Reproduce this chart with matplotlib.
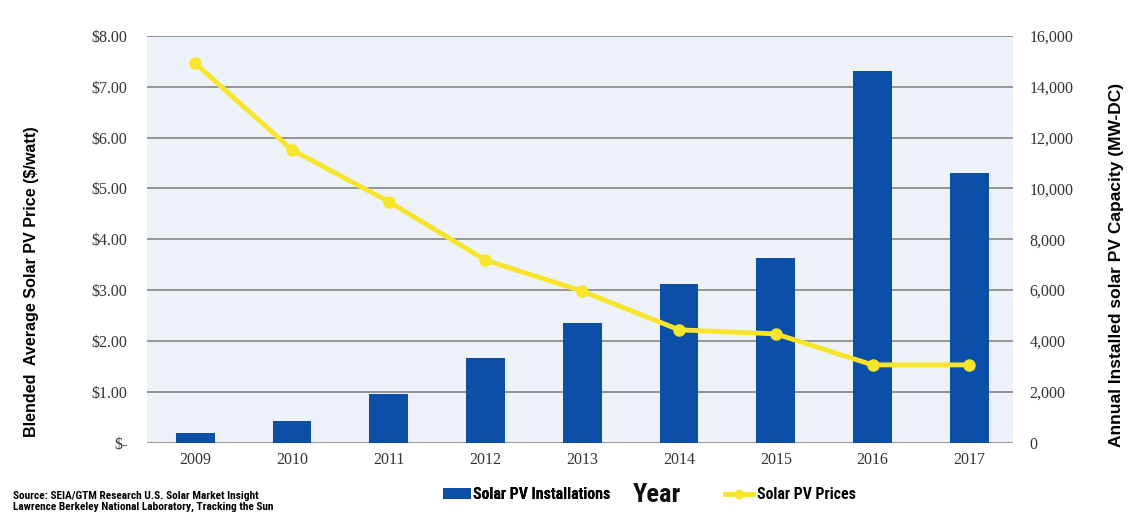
import numpy as np
import matplotlib
matplotlib.use('Agg')
import matplotlib.pyplot as plt
from matplotlib.patches import Patch
from matplotlib.lines import Line2D

# данные
years = ['2009', '2010', '2011', '2012', '2013', '2014', '2015', '2016', '2017']
installs_mw = [390, 850, 1920, 3340, 4720, 6230, 7250, 14600, 10620]
price_watt = [7.46, 5.76, 4.74, 3.59, 2.98, 2.22, 2.14, 1.53, 1.53]
price_ticks = ['$-', '$1.00', '$2.00', '$3.00', '$4.00', '$5.00', '$6.00', '$7.00', '$8.00']

BAR_COLOR = '#0b4fa6'
LINE_COLOR = '#f7e52c'
BG = '#edf2f8'
SERIF = ['Liberation Serif', 'DejaVu Serif']
NARROW = ['Roboto Condensed', 'Lato', 'DejaVu Sans']
SANS = ['Liberation Sans', 'DejaVu Sans']

fig = plt.figure(figsize=(11.38, 5.17), dpi=100)
ax = fig.add_axes([0.129, 0.1437, 0.761, 0.787])
ax2 = ax.twinx()

x = np.arange(len(years))

# столбцы на правой оси, линия на левой поверх них
ax2.set_zorder(0)
ax.set_zorder(1)
ax.patch.set_visible(False)
ax2.patch.set_visible(True)
ax2.patch.set_facecolor(BG)

ax2.bar(x, installs_mw, width=0.4, color=BAR_COLOR, zorder=3)
ax2.set_ylim(0, 16000)
ax2.set_yticks(np.arange(0, 16001, 2000))
ax2.set_yticklabels([f'{v:,}' for v in range(0, 16001, 2000)])
ax2.yaxis.grid(True, color='#858585', linewidth=1.2, zorder=0)
ax2.set_axisbelow(True)

ax.plot(x, price_watt, color=LINE_COLOR, linewidth=3.5, marker='o',
        markersize=8, markerfacecolor=LINE_COLOR, markeredgecolor=LINE_COLOR,
        solid_capstyle='round', zorder=5)
ax.set_ylim(0, 8)
ax.set_yticks(np.arange(0, 9, 1))
ax.set_yticklabels(price_ticks)
ax.set_xlim(-0.5, 8.45)
ax.set_xticks(x)
ax.set_xticklabels(years)

for a in (ax, ax2):
    for s in a.spines.values():
        s.set_visible(False)

ax.tick_params(axis='y', length=0, pad=14, labelsize=11.5, labelcolor='#333333')
ax.tick_params(axis='x', length=0, pad=7, labelsize=11.5, labelcolor='#333333')
ax2.tick_params(axis='y', length=0, pad=12, labelsize=11.5, labelcolor='#333333')
for lab in ax.get_yticklabels() + ax.get_xticklabels() + ax2.get_yticklabels():
    lab.set_family(SERIF)

ax.set_ylabel('Blended  Average Solar PV Price ($/watt)', fontsize=11.6,
              fontweight='bold', family=SANS)
ax.yaxis.set_label_coords(-0.124, 0.395)
ax2.set_ylabel('Annual Installed solar PV Capacity (MW-DC)', fontsize=12.5,
               fontweight='bold', family=SANS, rotation=90)
ax2.yaxis.set_label_coords(1.111, 0.437)

# легенда внизу, "Year" между элементами
leg1 = fig.legend(handles=[Patch(facecolor=BAR_COLOR, edgecolor='none')],
                  labels=['Solar PV Installations'], loc='center left',
                  bbox_to_anchor=(0.389, 0.043), frameon=False, handlelength=1.8,
                  handleheight=0.7, handletextpad=0.1, borderpad=0, borderaxespad=0,
                  prop={'family': NARROW, 'weight': 'bold', 'size': 11.4})
fig.add_artist(leg1)
fig.legend(handles=[Line2D([0], [0], color=LINE_COLOR, linewidth=3.5, marker='o',
                           markersize=6)],
           labels=['Solar PV Prices'], loc='center left',
           bbox_to_anchor=(0.637, 0.043), frameon=False, handlelength=1.8,
           handletextpad=0.2, borderpad=0, borderaxespad=0,
           prop={'family': NARROW, 'weight': 'bold', 'size': 11.4})
fig.text(0.577, 0.043, 'Year', ha='center', va='center', fontsize=19,
         fontweight='bold', family=NARROW, color='#111111')

fig.text(0.011, 0.0406, 'Source: SEIA/GTM Research U.S. Solar Market Insight',
         fontsize=8.2, fontweight='bold', family=NARROW, va='center')
fig.text(0.011, 0.0193, 'Lawrence Berkeley National Laboratory, Tracking the Sun',
         fontsize=8.2, fontweight='bold', family=NARROW, va='center')

fig.savefig('out.png', dpi=100)
